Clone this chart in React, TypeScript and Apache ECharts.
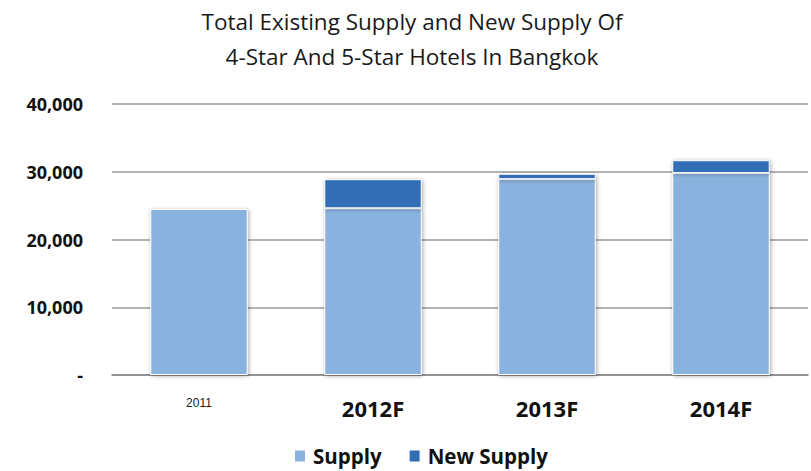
import React, { useEffect, useRef } from "react";
import * as echarts from "echarts";

const categories = ["2011", "2012F", "2013F", "2014F"];
const supply = [24500, 24600, 28900, 29800];
const newSupply = [0, 4300, 800, 1900];
const seriesNames = ["Supply", "New Supply"];
const titleLines = ["Total Existing Supply and New Supply Of", "4-Star And 5-Star Hotels In Bangkok"];

export default function App() {
  const ref = useRef<HTMLDivElement>(null);
  useEffect(() => {
    const chart = echarts.init(ref.current!, null, { renderer: "svg" });
    const barStyle = (color: string) => ({
      color,
      borderColor: "#ffffff",
      borderWidth: 1,
      shadowBlur: 4,
      shadowColor: "rgba(0,0,0,0.35)",
      shadowOffsetX: 1,
      shadowOffsetY: 1,
    });
    chart.setOption({
      animation: false,
      backgroundColor: "#ffffff",
      title: {
        text: titleLines.join("\n"),
        left: 412,
        textAlign: "center",
        top: 4,
        padding: 0,
        textStyle: {
          fontFamily: "Open Sans",
          fontWeight: "normal",
          fontSize: 22.5,
          lineHeight: 35,
          color: "#1a1a1a",
        },
      },
      legend: {
        left: 293,
        top: 445,
        padding: 0,
        icon: "rect",
        itemWidth: 12,
        itemHeight: 13,
        itemGap: 26,
        textStyle: {
          fontFamily: "Open Sans",
          fontWeight: "bold",
          fontSize: 20.5,
          lineHeight: 22,
          color: "#111111",
          padding: [0, 0, 0, 2],
        },
        data: seriesNames,
      },
      grid: { left: 112, right: 3, top: 104, bottom: 96, containLabel: false },
      xAxis: {
        type: "category",
        data: categories,
        axisLine: { lineStyle: { color: "#888888", width: 1.5 } },
        axisTick: { show: false },
        axisLabel: {
          margin: 22,
          formatter: (v: string) => (v === "2011" ? "{s|" + v + "}" : "{b|" + v + "}"),
          rich: {
            s: { fontFamily: "Liberation Sans", fontSize: 12, color: "#222222" },
            b: { fontFamily: "Open Sans", fontWeight: "bold", fontSize: 22, color: "#111111" },
          },
        },
      },
      yAxis: {
        type: "value",
        min: 0,
        max: 40000,
        interval: 10000,
        axisLine: { show: false },
        axisTick: { show: false },
        splitLine: { lineStyle: { color: "#9a9a9a", width: 1.5 } },
        axisLabel: {
          margin: 29,
          fontFamily: "Open Sans",
          fontWeight: "bold",
          fontSize: 18,
          color: "#111111",
          formatter: (v: number) => (v === 0 ? "-" : v.toLocaleString("en-US")),
        },
      },
      series: [
        {
          name: seriesNames[0],
          type: "bar",
          stack: "total",
          barWidth: "56%",
          data: supply,
          itemStyle: barStyle("#8AB2DE"),
        },
        {
          name: seriesNames[1],
          type: "bar",
          stack: "total",
          barWidth: "56%",
          data: newSupply,
          itemStyle: barStyle("#306EB6"),
        },
      ],
    });
    return () => chart.dispose();
  }, []);
  return (
    <div
      ref={ref}
      style={{ position: "fixed", left: 0, top: 0, width: 811, height: 471, overflow: "hidden" }}
    />
  );
}
